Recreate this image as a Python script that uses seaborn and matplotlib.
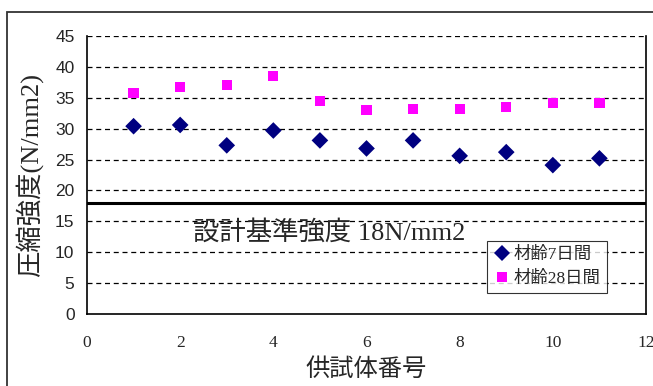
import numpy as np
import pandas as pd
import seaborn as sns
import matplotlib.pyplot as plt
from matplotlib.patches import Rectangle

# data
specimen = [1, 2, 3, 4, 5, 6, 7, 8, 9, 10, 11]
day7 = [30.4, 30.6, 27.3, 29.7, 28.1, 26.8, 28.1, 25.6, 26.2, 24.1, 25.2]
day28 = [35.8, 36.7, 37.1, 38.5, 34.5, 33.0, 33.2, 33.2, 33.5, 34.1, 34.1]
series_names = ['材齢7日間', '材齢28日間']
design_strength = 18

df = pd.DataFrame({
    'no': specimen * 2,
    'strength': day7 + day28,
    'age': [series_names[0]] * len(day7) + [series_names[1]] * len(day28),
})

sns.set_style('white')
plt.rcParams['font.family'] = ['Liberation Serif', 'Noto Sans CJK JP', 'DejaVu Sans']
plt.rcParams['axes.unicode_minus'] = False

fig = plt.figure(figsize=(6.53, 3.86), dpi=100)
ax = fig.add_axes([87 / 653, 72 / 386, 559 / 653, 278 / 386])

# outer chart frame
fig.patches.append(Rectangle((7 / 653, -0.1), 1.1, 1.1 - 12 / 386,
                             transform=fig.transFigure, fill=False,
                             edgecolor='#333333', linewidth=1.3))

sns.scatterplot(data=df, x='no', y='strength', hue='age', style='age', size='age',
                palette={series_names[0]: '#000080', series_names[1]: '#FF00FF'},
                markers={series_names[0]: 'D', series_names[1]: 's'},
                sizes={series_names[0]: 72, series_names[1]: 54},
                linewidth=0, ax=ax, zorder=3)

ax.axhline(design_strength, color='black', linewidth=2.2, zorder=2)
ax.text(2.27, 13.3, '設計基準強度 18N/mm2', fontsize=19, va='center',
        family=['Liberation Serif', 'Noto Sans CJK JP'])

ax.set_xlim(0, 12)
ax.set_ylim(0, 45)
ax.set_xticks(np.arange(0, 13, 2))
ax.set_yticks(np.arange(0, 46, 5))
for y in range(5, 46, 5):
    ax.axhline(y, color='black', linestyle=(0, (4, 3)), linewidth=0.9, zorder=1)

ax.tick_params(axis='x', direction='in', length=3, labelsize=12.5, pad=15)
ax.tick_params(axis='y', length=0, labelsize=12.5, pad=9)
for lab in ax.get_yticklabels():
    lab.set_family(['Liberation Sans', 'DejaVu Sans'])

for side in ['left', 'bottom', 'right']:
    ax.spines[side].set_color('black')
    ax.spines[side].set_linewidth(1.2)
ax.spines['top'].set_visible(False)

ax.set_xlabel('供試体番号', fontsize=17.5, family=['Noto Sans CJK JP'], labelpad=4)
ax.set_ylabel('圧縮強度(N/mm2)', fontsize=19,
              family=['Liberation Serif', 'Noto Sans CJK JP'])
ax.yaxis.set_label_coords((43 - 87) / 559, 0.5)

leg = ax.legend(loc='lower left', bbox_to_anchor=(0.7156, 0.0755), frameon=True,
                fancybox=False, handletextpad=0.2, borderaxespad=0,
                borderpad=0.35, labelspacing=0.45, handlelength=1.0,
                prop={'family': ['Liberation Serif', 'Noto Sans CJK JP'], 'size': 12.5})
leg.get_frame().set_edgecolor('black')
leg.get_frame().set_linewidth(0.8)

fig.savefig('out.png', dpi=100)
